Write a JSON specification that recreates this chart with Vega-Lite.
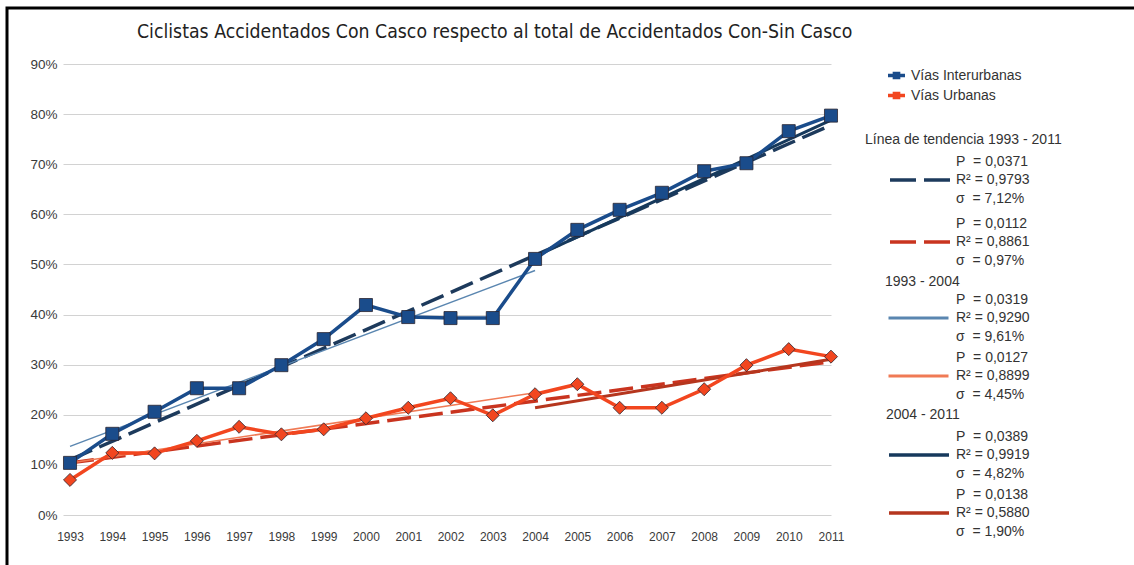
{
  "$schema": "https://vega.github.io/schema/vega-lite/v6.json",
  "width": 1130,
  "height": 560,
  "autosize": {"type": "none"},
  "padding": {"left": 7, "top": 8, "right": 0, "bottom": 0},
  "background": "white",
  "config": {
    "view": {"stroke": "#000000", "strokeWidth": 3},
    "font": "Liberation Sans",
    "axis": {"labelFont": "Liberation Sans", "labelColor": "#3a3a3a", "labelFontSize": 12, "ticks": false, "domain": false},
    "legend": {"labelFont": "Liberation Sans", "labelFontSize": 14, "labelColor": "#333333", "titleFont": "Liberation Sans", "titleFontSize": 14, "titleFontWeight": "normal", "titleColor": "#333333", "padding": 0, "orient": "none", "labelLimit": 250, "titleLimit": 300}
  },
  "title": {
    "text": "Ciclistas Accidentados Con Casco respecto al total de Accidentados Con-Sin Casco",
    "font": "Liberation Sans Narrow, DejaVu Sans Condensed, Liberation Sans",
    "fontSize": 19.3,
    "fontWeight": "normal",
    "color": "#222222",
    "anchor": "start",
    "frame": "group",
    "dx": 130,
    "dy": 34,
    "offset": 0,
    "baseline": "top"
  },
  "datasets": {
    "obs": [
      {"anio": 1993, "serie": "Vías Interurbanas", "valor": 0.104},
      {"anio": 1994, "serie": "Vías Interurbanas", "valor": 0.162},
      {"anio": 1995, "serie": "Vías Interurbanas", "valor": 0.206},
      {"anio": 1996, "serie": "Vías Interurbanas", "valor": 0.253},
      {"anio": 1997, "serie": "Vías Interurbanas", "valor": 0.253},
      {"anio": 1998, "serie": "Vías Interurbanas", "valor": 0.299},
      {"anio": 1999, "serie": "Vías Interurbanas", "valor": 0.351},
      {"anio": 2000, "serie": "Vías Interurbanas", "valor": 0.419},
      {"anio": 2001, "serie": "Vías Interurbanas", "valor": 0.395},
      {"anio": 2002, "serie": "Vías Interurbanas", "valor": 0.393},
      {"anio": 2003, "serie": "Vías Interurbanas", "valor": 0.393},
      {"anio": 2004, "serie": "Vías Interurbanas", "valor": 0.511},
      {"anio": 2005, "serie": "Vías Interurbanas", "valor": 0.569},
      {"anio": 2006, "serie": "Vías Interurbanas", "valor": 0.609},
      {"anio": 2007, "serie": "Vías Interurbanas", "valor": 0.643},
      {"anio": 2008, "serie": "Vías Interurbanas", "valor": 0.686},
      {"anio": 2009, "serie": "Vías Interurbanas", "valor": 0.702},
      {"anio": 2010, "serie": "Vías Interurbanas", "valor": 0.766},
      {"anio": 2011, "serie": "Vías Interurbanas", "valor": 0.797},
      {"anio": 1993, "serie": "Vías Urbanas", "valor": 0.070},
      {"anio": 1994, "serie": "Vías Urbanas", "valor": 0.124},
      {"anio": 1995, "serie": "Vías Urbanas", "valor": 0.123},
      {"anio": 1996, "serie": "Vías Urbanas", "valor": 0.148},
      {"anio": 1997, "serie": "Vías Urbanas", "valor": 0.176},
      {"anio": 1998, "serie": "Vías Urbanas", "valor": 0.161},
      {"anio": 1999, "serie": "Vías Urbanas", "valor": 0.171},
      {"anio": 2000, "serie": "Vías Urbanas", "valor": 0.193},
      {"anio": 2001, "serie": "Vías Urbanas", "valor": 0.214},
      {"anio": 2002, "serie": "Vías Urbanas", "valor": 0.233},
      {"anio": 2003, "serie": "Vías Urbanas", "valor": 0.199},
      {"anio": 2004, "serie": "Vías Urbanas", "valor": 0.241},
      {"anio": 2005, "serie": "Vías Urbanas", "valor": 0.261},
      {"anio": 2006, "serie": "Vías Urbanas", "valor": 0.214},
      {"anio": 2007, "serie": "Vías Urbanas", "valor": 0.214},
      {"anio": 2008, "serie": "Vías Urbanas", "valor": 0.251},
      {"anio": 2009, "serie": "Vías Urbanas", "valor": 0.299},
      {"anio": 2010, "serie": "Vías Urbanas", "valor": 0.331},
      {"anio": 2011, "serie": "Vías Urbanas", "valor": 0.316}
    ],
    "trends": [
      {"grupo": "A", "etiqueta": "P\u00a0 = 0,0371|R² = 0,9793|σ\u00a0 = 7,12%", "anio": 1993, "valor": 0.110},
      {"grupo": "A", "etiqueta": "P\u00a0 = 0,0371|R² = 0,9793|σ\u00a0 = 7,12%", "anio": 2011, "valor": 0.778},
      {"grupo": "A", "etiqueta": "P\u00a0 = 0,0112|R² = 0,8861|σ\u00a0 = 0,97%", "anio": 1993, "valor": 0.104},
      {"grupo": "A", "etiqueta": "P\u00a0 = 0,0112|R² = 0,8861|σ\u00a0 = 0,97%", "anio": 2011, "valor": 0.306},
      {"grupo": "B", "etiqueta": "P\u00a0 = 0,0319|R² = 0,9290|σ\u00a0 = 9,61%", "anio": 1993, "valor": 0.137},
      {"grupo": "B", "etiqueta": "P\u00a0 = 0,0319|R² = 0,9290|σ\u00a0 = 9,61%", "anio": 2004, "valor": 0.488},
      {"grupo": "B", "etiqueta": "P\u00a0 = 0,0127|R² = 0,8899|σ\u00a0 = 4,45%", "anio": 1993, "valor": 0.104},
      {"grupo": "B", "etiqueta": "P\u00a0 = 0,0127|R² = 0,8899|σ\u00a0 = 4,45%", "anio": 2004, "valor": 0.244},
      {"grupo": "C", "etiqueta": "P\u00a0 = 0,0389|R² = 0,9919|σ\u00a0 = 4,82%", "anio": 2004, "valor": 0.516},
      {"grupo": "C", "etiqueta": "P\u00a0 = 0,0389|R² = 0,9919|σ\u00a0 = 4,82%", "anio": 2011, "valor": 0.788},
      {"grupo": "C", "etiqueta": "P\u00a0 = 0,0138|R² = 0,5880|σ\u00a0 = 1,90%", "anio": 2004, "valor": 0.214},
      {"grupo": "C", "etiqueta": "P\u00a0 = 0,0138|R² = 0,5880|σ\u00a0 = 1,90%", "anio": 2011, "valor": 0.311}
    ]
  },
  "encoding": {
    "x": {
      "field": "anio", "type": "quantitative",
      "scale": {"domain": [1992.834, 2011], "range": [56, 824], "nice": false, "zero": false},
      "axis": {"title": null, "values": [1993,1994,1995,1996,1997,1998,1999,2000,2001,2002,2003,2004,2005,2006,2007,2008,2009,2010,2011], "format": "d", "grid": false, "offset": -53, "labelPadding": 16, "labelFontSize": 12, "labelFlush": false, "labelOverlap": false}
    },
    "y": {
      "field": "valor", "type": "quantitative",
      "scale": {"domain": [0, 0.9], "range": [507, 56], "nice": false, "zero": true},
      "axis": {"title": null, "values": [0,0.1,0.2,0.3,0.4,0.5,0.6,0.7,0.8,0.9], "format": ".0%", "grid": true, "gridColor": "#d2d2d2", "gridWidth": 1, "offset": -50, "labelPadding": 0, "labelFontSize": 13.5, "labelFlush": false}
    }
  },
  "layer": [
    {
      "data": {"name": "trends"},
      "transform": [{"filter": "datum.grupo == 'A'"}],
      "mark": {"type": "line", "strokeWidth": 3.5, "strokeDash": [24, 8]},
      "encoding": {
        "stroke": {
          "field": "etiqueta", "type": "nominal",
          "scale": {"domain": ["P\u00a0 = 0,0371|R² = 0,9793|σ\u00a0 = 7,12%", "P\u00a0 = 0,0112|R² = 0,8861|σ\u00a0 = 0,97%"], "range": ["#1d3a5c", "#c9341f"]},
          "legend": {"title": "Línea de tendencia 1993 - 2011", "legendX": 858, "legendY": 125, "symbolType": "stroke", "symbolSize": 3600, "symbolStrokeWidth": 3.5, "symbolDash": [26, 8], "symbolOffset": 23, "labelOffset": 4, "clipHeight": 56, "rowPadding": 6, "titlePadding": 5, "labelExpr": "split(datum.label, '|')", "encode": {"labels": {"update": {"lineHeight": {"value": 18.5}, "dy": {"value": -18.5}}}}}
        }
      }
    },
    {
      "data": {"name": "trends"},
      "transform": [{"filter": "datum.grupo == 'B'"}],
      "mark": {"type": "line", "strokeWidth": 1.5},
      "encoding": {
        "stroke": {
          "field": "etiqueta", "type": "nominal",
          "scale": {"domain": ["P\u00a0 = 0,0319|R² = 0,9290|σ\u00a0 = 9,61%", "P\u00a0 = 0,0127|R² = 0,8899|σ\u00a0 = 4,45%"], "range": ["#5a86b0", "#f07a55"]},
          "legend": {"title": "1993 - 2004", "legendX": 878, "legendY": 267, "symbolType": "stroke", "symbolSize": 3600, "symbolStrokeWidth": 3, "symbolOffset": 2, "labelOffset": 6, "clipHeight": 56, "rowPadding": 2, "titlePadding": 1, "labelExpr": "split(datum.label, '|')", "encode": {"labels": {"update": {"lineHeight": {"value": 18.5}, "dy": {"value": -18.5}}}}}
        }
      }
    },
    {
      "data": {"name": "trends"},
      "transform": [{"filter": "datum.grupo == 'C'"}],
      "mark": {"type": "line", "strokeWidth": 3},
      "encoding": {
        "stroke": {
          "field": "etiqueta", "type": "nominal",
          "scale": {"domain": ["P\u00a0 = 0,0389|R² = 0,9919|σ\u00a0 = 4,82%", "P\u00a0 = 0,0138|R² = 0,5880|σ\u00a0 = 1,90%"], "range": ["#16395c", "#b5361e"]},
          "legend": {"title": "2004 - 2011", "legendX": 879, "legendY": 400, "symbolType": "stroke", "symbolSize": 3600, "symbolStrokeWidth": 3.5, "symbolOffset": 1, "labelOffset": 5, "clipHeight": 56, "rowPadding": 2, "titlePadding": 5, "labelExpr": "split(datum.label, '|')", "encode": {"labels": {"update": {"lineHeight": {"value": 18.5}, "dy": {"value": -18.5}}}}}
        }
      }
    },
    {
      "data": {"name": "obs"},
      "mark": {"type": "line", "strokeWidth": 3.5},
      "encoding": {
        "stroke": {"field": "serie", "type": "nominal", "scale": {"domain": ["Vías Interurbanas", "Vías Urbanas"], "range": ["#1a4c8b", "#f2461f"]}, "legend": null}
      }
    },
    {
      "data": {"name": "obs"},
      "mark": {"type": "point", "filled": true, "size": 170, "stroke": "#2a2430", "strokeWidth": 0.8, "opacity": 1},
      "encoding": {
        "fill": {"field": "serie", "type": "nominal", "scale": {"domain": ["Vías Interurbanas", "Vías Urbanas"], "range": ["#1a4c8b", "#f2461f"]},
          "legend": {"title": null, "legendX": 881, "legendY": 59, "symbolType": "M-1,-0.2H1V0.2H-1Z M-0.45,-0.45H0.45V0.45H-0.45Z", "symbolSize": 289, "symbolStrokeWidth": 0, "labelOffset": 6, "rowPadding": 4}},
        "shape": {"field": "serie", "type": "nominal", "scale": {"domain": ["Vías Urbanas", "Vías Interurbanas"], "range": ["diamond", "square"]}, "legend": null}
      }
    }
  ],
  "resolve": {"scale": {"stroke": "independent", "fill": "independent", "shape": "independent"}}
}
